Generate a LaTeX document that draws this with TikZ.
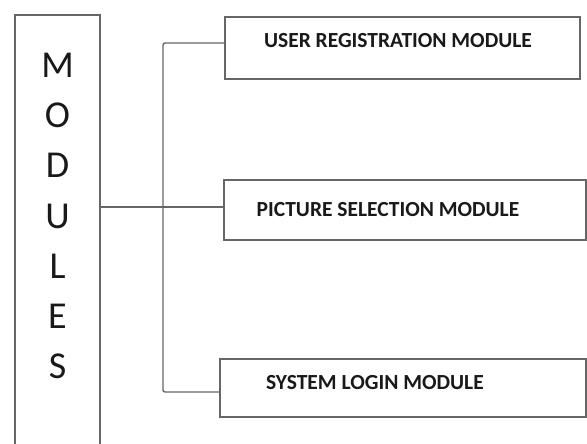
\documentclass[tikz,border=0pt]{standalone}
\usepackage{fontspec}
\setmainfont{Carlito}
\begin{document}
\begin{tikzpicture}[x=1pt,y=-1pt,
  ln/.style={draw=black!60, line width=1.4pt},
  modbox/.style={ln, rectangle, inner sep=0pt, fill=white},
  lbl/.style={font=\fontsize{21.5}{24}\selectfont\bfseries, text=black!90, inner sep=0pt},
  big/.style={font=\fontsize{38}{50.3}\selectfont, text=black!90, align=center, inner sep=0pt}]
\useasboundingbox[fill=white] (0,0) rectangle (587,444);
\clip (0,0) rectangle (587,444);
% MODULES column
\node[modbox, minimum width=85pt, minimum height=445pt] (mod) at (57.5,237.5) {};
\node[big] (modtxt) at (57.5,216) {M\\O\\D\\U\\L\\E\\S};
% boxes
\node[modbox, minimum width=355pt, minimum height=62pt] (b1) at (402.5,48) {};
\node[modbox, minimum width=362pt, minimum height=60pt] (b2) at (405,210) {};
\node[modbox, minimum width=366pt, minimum height=58pt] (b3) at (403,388) {};
\node[lbl] (t1) at (398,41) {USER REGISTRATION MODULE};
\node[lbl] (t2) at (388,210) {PICTURE SELECTION MODULE};
\node[lbl] (t3) at (375,383) {SYSTEM LOGIN MODULE};
% connectors
\coordinate (j) at (163,207);
\draw[ln] (mod.east |- j) -- (j) -- (b2.west |- j);
\draw[ln, rounded corners=2pt] ([yshift=5pt]b1.west) -| (j) |- ([yshift=-4pt]b3.west);
\end{tikzpicture}
\end{document}
